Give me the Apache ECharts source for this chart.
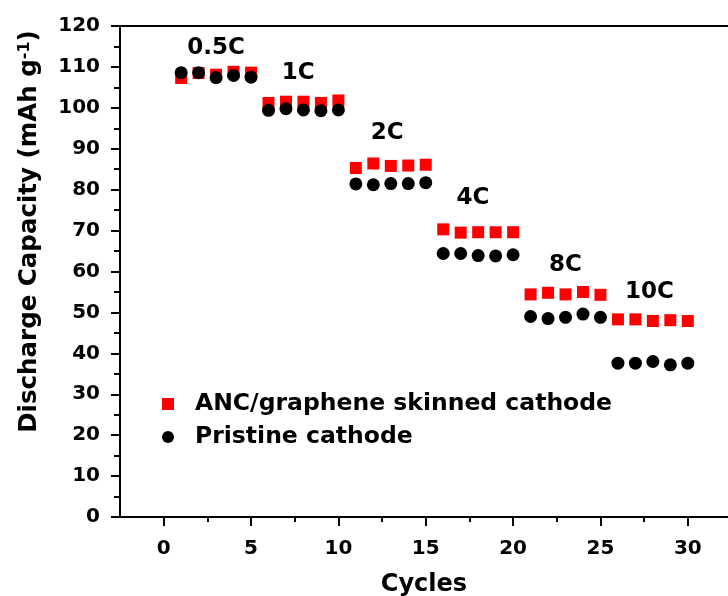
<!DOCTYPE html>
<html>
<head>
<meta charset="utf-8">
<script src="https://cdn.jsdelivr.net/npm/echarts@6/dist/echarts.min.js"></script>
<style>
  html, body { margin: 0; padding: 0; background: #fff; }
  #chart { width: 728px; height: 596px; }
</style>
</head>
<body>
<div id="chart"></div>
<script>
// rate capability: five cycles per C-rate
const cycles = Array.from({ length: 30 }, (_, i) => i + 1);
const ancCapacity = [
  107.3, 108.5, 108.1, 108.8, 108.6,
  101.2, 101.5, 101.5, 101.2, 101.8,
  85.3, 86.4, 85.8, 85.9, 86.1,
  70.3, 69.5, 69.6, 69.6, 69.6,
  54.4, 54.8, 54.4, 55.0, 54.3,
  48.3, 48.3, 47.9, 48.1, 47.9
];
const pristineCapacity = [
  108.6, 108.6, 107.4, 107.9, 107.5,
  99.4, 99.8, 99.5, 99.3, 99.5,
  81.4, 81.2, 81.5, 81.5, 81.7,
  64.4, 64.4, 63.9, 63.8, 64.1,
  49.0, 48.5, 48.8, 49.6, 48.8,
  37.6, 37.6, 38.0, 37.2, 37.6
];
const rateLabels = ['0.5C', '1C', '2C', '4C', '8C', '10C'];
const rateLabelPos = [[3.0, 114.7], [7.7, 108.6], [12.8, 93.9], [17.7, 78.0], [23.0, 61.6], [27.8, 55.0]];
const xMajorTicks = [0, 5, 10, 15, 20, 25, 30];
const xMinorTicks = [2.5, 7.5, 12.5, 17.5, 22.5, 27.5];

const FONT = '"DejaVu Sans", "Liberation Sans", Arial, sans-serif';
const FS = 20;   // tick labels
const FL = 23;   // rate labels

const chart = echarts.init(document.getElementById('chart'));

const baseX = {
  type: 'value',
  min: -2.5,
  max: 32.3,
  position: 'bottom',
  splitLine: { show: false },
};

chart.setOption({
  animation: false,
  grid: { left: 120, right: 0, top: 26, bottom: 79, outerBoundsMode: 'none' },
  legend: {
    orient: 'vertical',
    left: 157,
    top: 387,
    itemWidth: 12,
    itemHeight: 12,
    itemGap: 9,
    textStyle: { fontFamily: FONT, fontSize: 23.5, fontWeight: 'bold', color: '#000', padding: [0, 0, 0, 16] },
    data: [
      { name: 'ANC/graphene skinned cathode', icon: 'rect' },
      { name: 'Pristine cathode', icon: 'circle' },
    ],
  },
  xAxis: [
    {
      ...baseX,
      name: 'Cycles',
      nameLocation: 'middle',
      nameGap: 56,
      nameTextStyle: { fontFamily: FONT, fontSize: 24, fontWeight: 'bold', color: '#000' },
      axisLine: { onZero: false, lineStyle: { color: '#000', width: 2 } },
      axisTick: { customValues: xMajorTicks, length: 9, lineStyle: { color: '#000', width: 2 } },
      axisLabel: { customValues: xMajorTicks, margin: 22, fontFamily: FONT, fontSize: FS, fontWeight: 'bold', color: '#000' },
    },
    {
      ...baseX,
      axisLine: { show: false, onZero: false },
      axisTick: { customValues: xMinorTicks, length: 5, lineStyle: { color: '#000', width: 2 } },
      axisLabel: { show: false },
    },
    {
      ...baseX,
      position: 'top',
      axisLine: { onZero: false, lineStyle: { color: '#000', width: 2 } },
      axisTick: { show: false },
      axisLabel: { show: false },
    },
  ],
  yAxis: {
    type: 'value',
    min: 0,
    max: 120,
    interval: 10,
    name: '{n|Discharge Capacity (mAh g}{s|-1}{n|)}',
    nameLocation: 'middle',
    nameGap: 77,
    nameTextStyle: {
      padding: [0, 0, 0, 80],
      rich: {
        n: { fontFamily: FONT, fontSize: 24.5, fontWeight: 'bold', color: '#000' },
        s: { fontFamily: FONT, fontSize: 16, fontWeight: 'bold', color: '#000', verticalAlign: 'top', padding: [0, 0, 10, 0] },
      },
    },
    splitLine: { show: false },
    axisLine: { show: true, onZero: false, lineStyle: { color: '#000', width: 2 } },
    axisTick: { length: 9, lineStyle: { color: '#000', width: 2 } },
    minorTick: { show: true, splitNumber: 2, length: 6, lineStyle: { color: '#000', width: 2 } },
    axisLabel: { margin: 20, fontFamily: FONT, fontSize: FS, fontWeight: 'bold', color: '#000' },
  },
  series: [
    {
      name: 'ANC/graphene skinned cathode',
      type: 'scatter',
      symbol: 'rect',
      symbolSize: 12,
      itemStyle: { color: '#ff0000', opacity: 1 },
      data: cycles.map((c, i) => [c, ancCapacity[i]]),
    },
    {
      name: 'Pristine cathode',
      type: 'scatter',
      symbol: 'circle',
      symbolSize: 13,
      itemStyle: { color: '#000', opacity: 1 },
      data: cycles.map((c, i) => [c, pristineCapacity[i]]),
    },
    {
      name: 'rates',
      type: 'scatter',
      symbolSize: 1,
      silent: true,
      itemStyle: { opacity: 0 },
      label: {
        show: true,
        position: 'inside',
        opacity: 1,
        formatter: p => rateLabels[p.dataIndex],
        fontFamily: FONT, fontSize: FL, fontWeight: 'bold', color: '#000',
      },
      data: rateLabelPos,
    },
  ],
});
</script>
</body>
</html>
